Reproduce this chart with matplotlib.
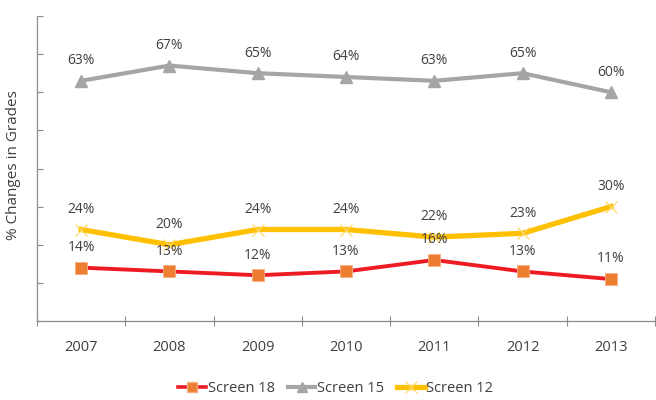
import matplotlib
matplotlib.use("Agg")
import matplotlib.pyplot as plt
from matplotlib.lines import Line2D

plt.rcParams['font.family'] = ['Open Sans', 'DejaVu Sans']

years = ['2007', '2008', '2009', '2010', '2011', '2012', '2013']
screen18 = [14, 13, 12, 13, 16, 13, 11]
screen15 = [63, 67, 65, 64, 63, 65, 60]
screen12 = [24, 20, 24, 24, 22, 23, 30]

text_color = '#404040'
axis_color = '#8c8c8c'

fig = plt.figure(figsize=(6.56, 4.0), dpi=100)
ax = fig.add_axes([37/656, 1-321/400, (655-37)/656, (321-16)/400])

x = list(range(len(years)))

ax.plot(x, screen18, color='#ED1C24', lw=2.8, marker='s', markersize=8,
        markerfacecolor='#ED7D31', markeredgecolor='#F4B183', markeredgewidth=0.6,
        zorder=3, label='Screen 18', solid_capstyle='butt')
ax.plot(x, screen15, color='#A5A5A5', lw=3.0, marker='^', markersize=8,
        markerfacecolor='#A5A5A5', markeredgecolor='#A5A5A5', zorder=3,
        label='Screen 15')
ax.plot(x, screen12, color='#FFC000', lw=3.8, marker='x', markersize=9,
        markeredgecolor='#FFD966', markeredgewidth=0.9, zorder=3, label='Screen 12')

for series in (screen18, screen15, screen12):
    for xi, v in zip(x, series):
        ax.annotate(f'{v}%', (xi, v), xytext=(0, 14.5), textcoords='offset points',
                    ha='center', va='center', fontsize=10, color=text_color, zorder=4)

ax.set_xlim(-0.5, len(years) - 0.5)
ax.set_ylim(0, 80)
ax.set_yticks(range(0, 81, 10))
ax.set_yticklabels([])
ax.tick_params(axis='y', direction='in', length=4.5, width=0.8, color=axis_color)

ax.set_xticks([i + 0.5 for i in range(-1, len(years))], minor=False)
ax.set_xticklabels([])
ax.tick_params(axis='x', which='major', direction='inout', length=7, width=0.8,
               color=axis_color)
ax.set_xticks(x, minor=True)
ax.set_xticklabels(years, minor=True)
ax.tick_params(axis='x', which='minor', length=0, pad=14, labelsize=10.5,
               labelcolor=text_color)

for s in ('top', 'right'):
    ax.spines[s].set_visible(False)
for s in ('left', 'bottom'):
    ax.spines[s].set_color(axis_color)
    ax.spines[s].set_linewidth(0.9)

fig.text(14/656, 1-165/400, '% Changes in Grades', rotation=90, ha='center',
         va='center', fontsize=11, color=text_color)

handles = [
    Line2D([], [], color='#ED1C24', lw=2.6, marker='s', markersize=7,
           markerfacecolor='#ED7D31', markeredgecolor='#F4B183'),
    Line2D([], [], color='#A5A5A5', lw=3.0, marker='^', markersize=7),
    Line2D([], [], color='#FFC000', lw=3.8, marker='x', markersize=8.5,
           markeredgecolor='#FFD966', markeredgewidth=0.9),
]
fig.legend(handles, ['Screen 18', 'Screen 15', 'Screen 12'], loc='center',
           bbox_to_anchor=(0.512, 1-389/400), ncol=3, frameon=False, fontsize=10.5,
           handlelength=1.9, handletextpad=0.1, columnspacing=0.9,
           labelcolor=text_color)

fig.savefig('out.png', dpi=100)
